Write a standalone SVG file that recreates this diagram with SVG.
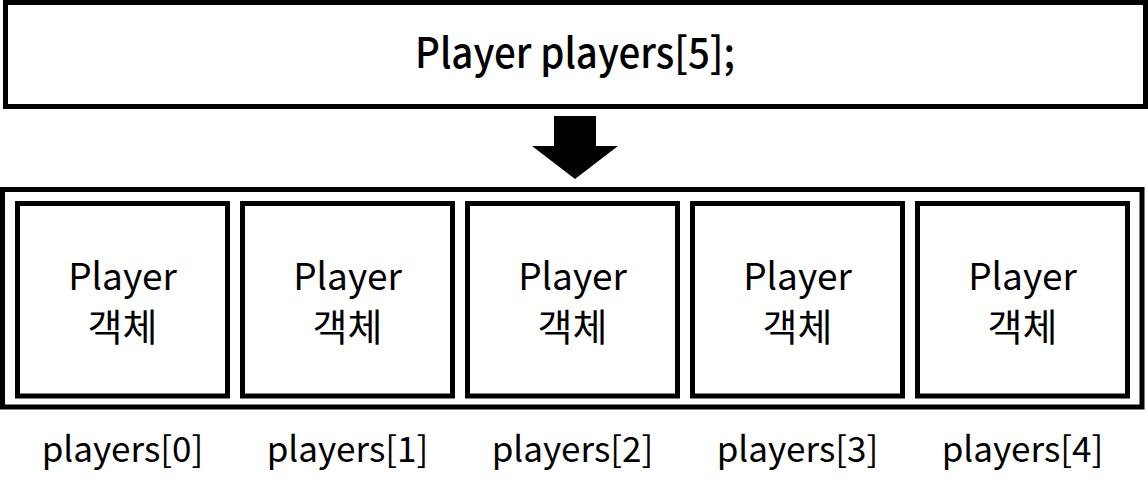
<svg xmlns="http://www.w3.org/2000/svg" width="1148" height="492" viewBox="0 0 1148 492">
<style>
.box{fill:#fff;stroke:#000;stroke-width:5}
.t{font-family:"Noto Sans CJK KR","Noto Sans",sans-serif;fill:#000;text-anchor:middle}
.title{font-size:42px;font-weight:500}
.cell{font-size:37px}
.kr{font-size:38px}
.lbl{font-size:35px}
</style>
<rect width="1148" height="492" fill="#fff"/>
<g id="declaration">
<rect class="box" x="5.5" y="2.5" width="1140" height="104"/>
<text class="t title" x="575" y="68" textLength="320" lengthAdjust="spacingAndGlyphs">Player players[5];</text>
</g>
<g id="connectors">
<polygon points="554,116 596,116 596,146 618,146 575,179 532,146 554,146" fill="#000"/>
</g>
<g id="array">
<rect class="box" x="2.5" y="189.5" width="1139.5" height="217.5"/>
</g>
<g id="cell0">
<rect class="box" x="17.5" y="203.5" width="210" height="192.5"/>
<text class="t cell" x="122.5" y="290">Player</text>
<text class="t kr" x="122.5" y="341">객체</text>
<text class="t lbl" x="122.5" y="462">players[0]</text>
</g>
<g id="cell1">
<rect class="box" x="242.5" y="203.5" width="210" height="192.5"/>
<text class="t cell" x="347.5" y="290">Player</text>
<text class="t kr" x="347.5" y="341">객체</text>
<text class="t lbl" x="347.5" y="462">players[1]</text>
</g>
<g id="cell2">
<rect class="box" x="467.5" y="203.5" width="210" height="192.5"/>
<text class="t cell" x="572.5" y="290">Player</text>
<text class="t kr" x="572.5" y="341">객체</text>
<text class="t lbl" x="572.5" y="462">players[2]</text>
</g>
<g id="cell3">
<rect class="box" x="692.5" y="203.5" width="210" height="192.5"/>
<text class="t cell" x="797.5" y="290">Player</text>
<text class="t kr" x="797.5" y="341">객체</text>
<text class="t lbl" x="797.5" y="462">players[3]</text>
</g>
<g id="cell4">
<rect class="box" x="917.5" y="203.5" width="210" height="192.5"/>
<text class="t cell" x="1022.5" y="290">Player</text>
<text class="t kr" x="1022.5" y="341">객체</text>
<text class="t lbl" x="1022.5" y="462">players[4]</text>
</g>
</svg>
